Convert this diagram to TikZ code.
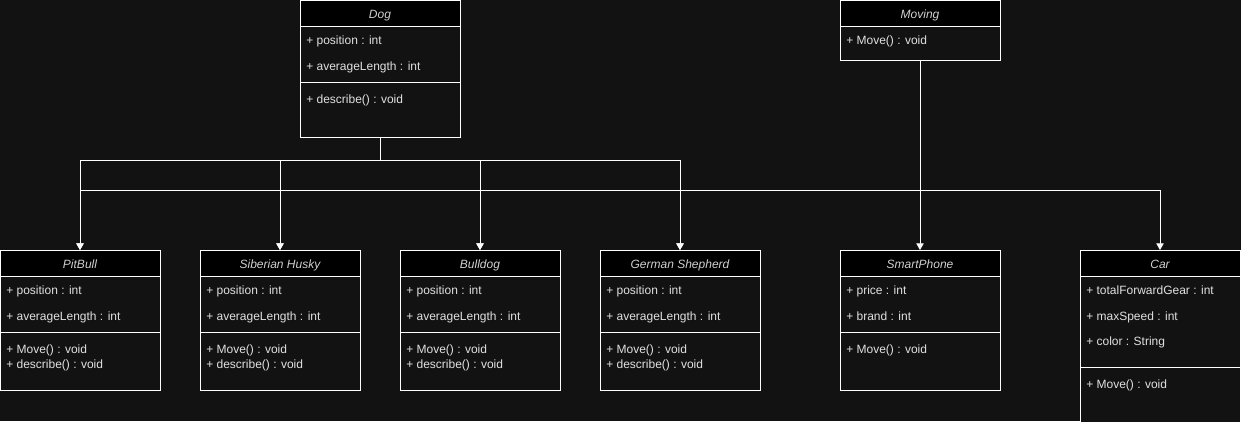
\documentclass[tikz,border=0pt]{standalone}
\usepackage{fontspec}
\setmainfont{Liberation Sans}
\usetikzlibrary{arrows.meta}
\definecolor{bgc}{HTML}{121212}
\definecolor{txt}{HTML}{E0E0E0}
\definecolor{ttl}{HTML}{D0D0D0}
\tikzset{
  cls/.style={draw=white, line width=0.75pt, fill=bgc, rectangle, anchor=north west,
    minimum width=120pt, inner sep=0pt, outer sep=0pt},
  hdr/.style={draw=white, line width=0.75pt, fill=black, rectangle, anchor=north west,
    minimum width=120pt, minimum height=19.5pt, inner sep=0pt, outer sep=0pt,
    text height=8pt, text depth=0pt,
    text=ttl, font=\fontsize{9pt}{10pt}\selectfont\itshape},
  item/.style={anchor=west, inner sep=0pt, yshift=-0.75pt, text height=6.8pt, text depth=1.9pt,
    text=txt, font=\fontsize{9pt}{10pt}\selectfont},
  sep/.style={draw=white, line width=0.75pt},
  arr/.style={draw=white, line width=0.75pt, -{Triangle[width=5.5pt,length=5pt]}},
}
\begin{document}
\begin{tikzpicture}[x=0.75pt, y=-0.75pt]
\fill[bgc] (0,0) rectangle (1241,421);
\useasboundingbox (0,0) rectangle (1241,421);
\clip (0,0) rectangle (1241,421);

% Dog
\node[cls, minimum height=102.75pt] (dog) at (300,0) {};
\node[hdr] (dogH) at (300,0) {Dog};
\draw[sep] (300,82) -- (460,82);
\node[item] (dog1) at (306,40) {+ position : int};
\node[item] (dog2) at (306,66) {+ averageLength : int};
\node[item] (dog3) at (306,99) {+ describe() : void};

% Moving
\node[cls, minimum height=45pt] (mov) at (840,0) {};
\node[hdr] (movH) at (840,0) {Moving};
\node[item] (mov1) at (846,40) {+ Move() : void};

% PitBull
\node[cls, minimum height=105pt] (pit) at (0,250) {};
\node[hdr] (pitH) at (0,250) {PitBull};
\draw[sep] (0,332) -- (160,332);
\node[item] (pit1) at (6,290) {+ position : int};
\node[item] (pit2) at (6,316) {+ averageLength : int};
\node[item] (pit3) at (6,349) {+ Move() : void};
\node[item] (pit4) at (6,364) {+ describe() : void};

% Siberian Husky
\node[cls, minimum height=105pt] (hus) at (200,250) {};
\node[hdr] (husH) at (200,250) {Siberian Husky};
\draw[sep] (200,332) -- (360,332);
\node[item] (hus1) at (206,290) {+ position : int};
\node[item] (hus2) at (206,316) {+ averageLength : int};
\node[item] (hus3) at (206,349) {+ Move() : void};
\node[item] (hus4) at (206,364) {+ describe() : void};

% Bulldog
\node[cls, minimum height=105pt] (bul) at (400,250) {};
\node[hdr] (bulH) at (400,250) {Bulldog};
\draw[sep] (400,332) -- (560,332);
\node[item] (bul1) at (406,290) {+ position : int};
\node[item] (bul2) at (406,316) {+ averageLength : int};
\node[item] (bul3) at (406,349) {+ Move() : void};
\node[item] (bul4) at (406,364) {+ describe() : void};

% German Shepherd
\node[cls, minimum height=105pt] (ger) at (600,250) {};
\node[hdr] (gerH) at (600,250) {German Shepherd};
\draw[sep] (600,332) -- (760,332);
\node[item] (ger1) at (606,290) {+ position : int};
\node[item] (ger2) at (606,316) {+ averageLength : int};
\node[item] (ger3) at (606,349) {+ Move() : void};
\node[item] (ger4) at (606,364) {+ describe() : void};

% SmartPhone
\node[cls, minimum height=105pt] (sp) at (840,250) {};
\node[hdr] (spH) at (840,250) {SmartPhone};
\draw[sep] (840,332) -- (1000,332);
\node[item] (sp1) at (846,290) {+ price : int};
\node[item] (sp2) at (846,316) {+ brand : int};
\node[item] (sp3) at (846,349) {+ Move() : void};

% Car
\node[cls, minimum height=150pt] (car) at (1080,250) {};
\node[hdr] (carH) at (1080,250) {Car};
\draw[sep] (1080,367) -- (1240,367);
\node[item] (car1) at (1086,290) {+ totalForwardGear : int};
\node[item] (car2) at (1086,316) {+ maxSpeed : int};
\node[item] (car3) at (1086,341) {+ color : String};
\node[item] (car4) at (1086,384) {+ Move() : void};

% Connectors
\coordinate (dbus) at (380,160);
\coordinate (mbus) at (920,190);
\draw[arr] (dog.south) -- (dbus) -| (pit.north);
\draw[arr] (dog.south) -- (dbus) -| (hus.north);
\draw[arr] (dog.south) -- (dbus) -| (bul.north);
\draw[arr] (dog.south) -- (dbus) -| (ger.north);
\draw[arr] (mov.south) -- (mbus) -| (pit.north);
\draw[arr] (mov.south) -- (mbus) -| (hus.north);
\draw[arr] (mov.south) -- (mbus) -| (bul.north);
\draw[arr] (mov.south) -- (mbus) -| (ger.north);
\draw[arr] (mov.south) -- (sp.north);
\draw[arr] (mov.south) -- (mbus) -| (car.north);
\end{tikzpicture}
\end{document}
